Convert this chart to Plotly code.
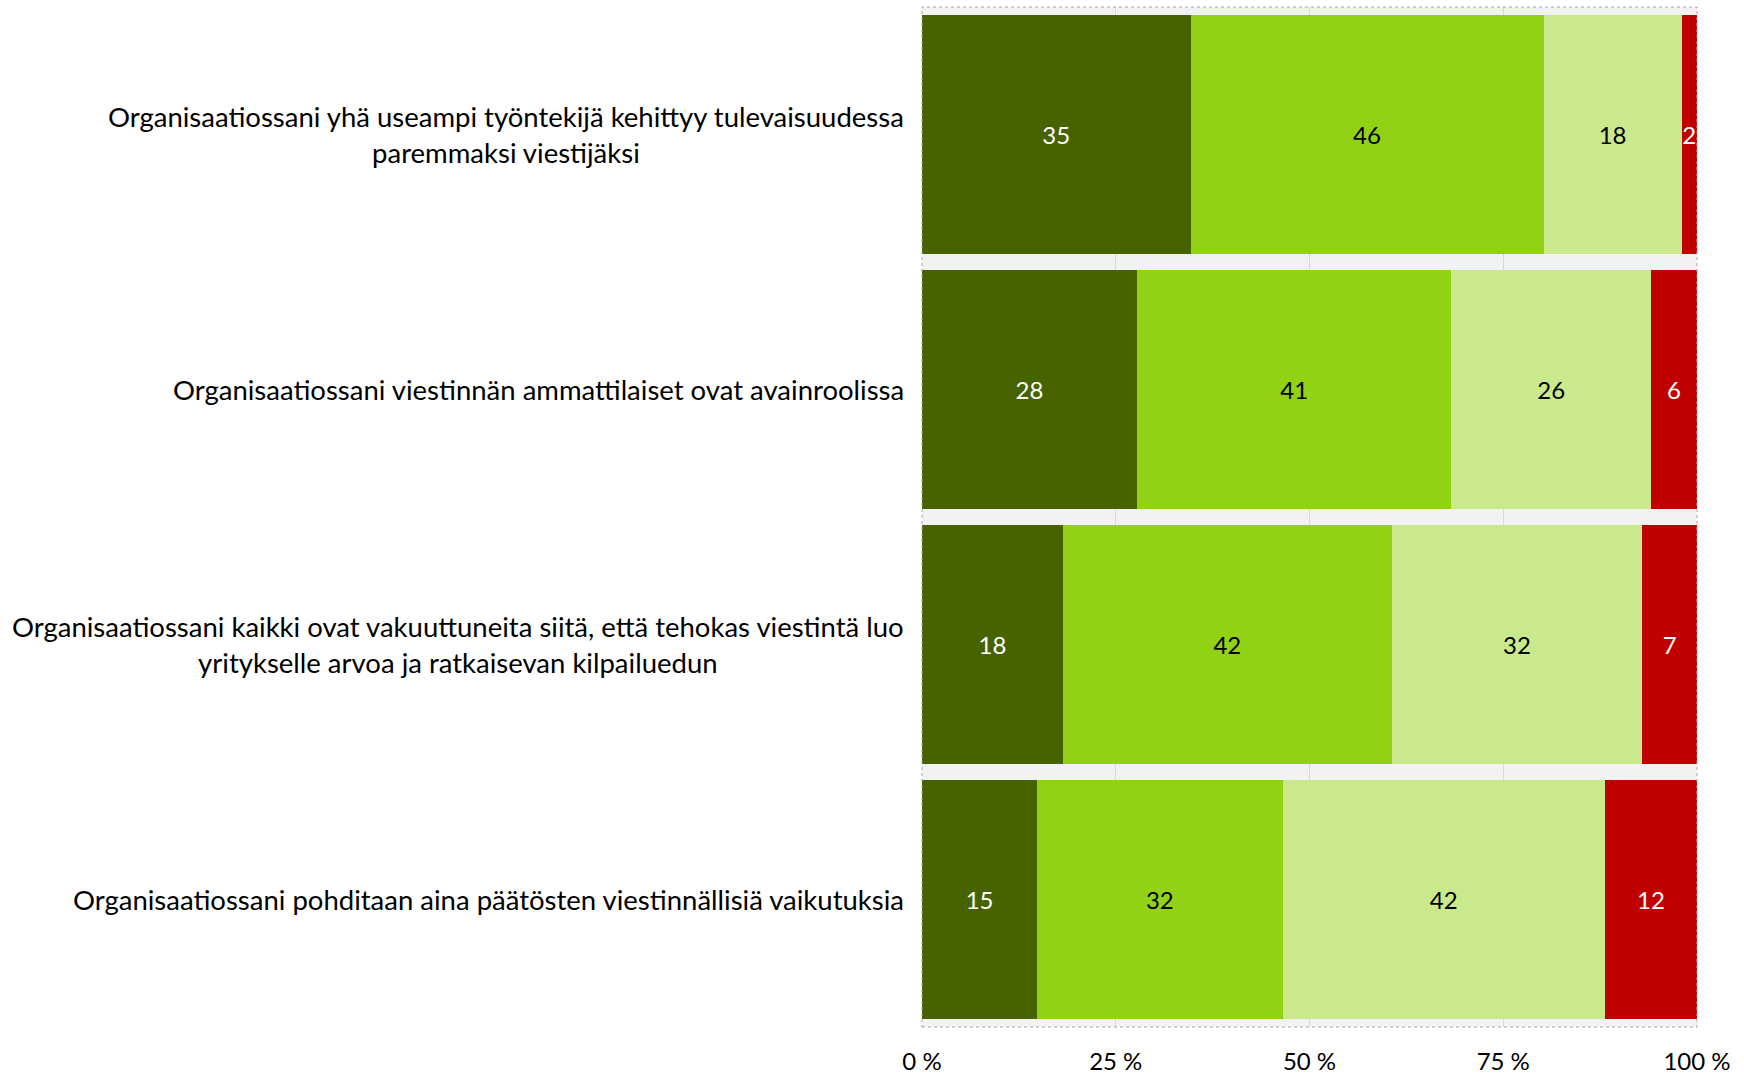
import plotly.graph_objects as go

# Survey statements (top to bottom) and response shares per answer class
statements = [
    "Organisaatiossani yhä useampi työntekijä kehittyy tulevaisuudessa<br>paremmaksi viestijäksi",
    "Organisaatiossani viestinnän ammattilaiset ovat avainroolissa",
    "Organisaatiossani kaikki ovat vakuuttuneita siitä, että tehokas viestintä luo<br>yritykselle arvoa ja ratkaisevan kilpailuedun",
    "Organisaatiossani pohditaan aina päätösten viestinnällisiä vaikutuksia",
]
series_names = ["Täysin samaa mieltä", "Jokseenkin samaa mieltä", "Jokseenkin eri mieltä", "Täysin eri mieltä"]
values = [
    [35, 28, 18, 15],
    [46, 41, 42, 32],
    [18, 26, 32, 42],
    [2, 6, 7, 12],
]
x_ticks = [0, 25, 50, 75, 100]
x_tick_labels = ["0 %", "25 %", "50 %", "75 %", "100 %"]

colors = ["#466300", "#92D215", "#CAE88C", "#C00000"]
text_colors = ["white", "black", "black", "white"]

fig = go.Figure()
for name, vals, col, tcol in zip(series_names, values, colors, text_colors):
    fig.add_trace(go.Bar(
        y=statements, x=vals, name=name, orientation="h",
        marker=dict(color=col, line=dict(width=0)),
        text=[str(v) for v in vals], textposition="inside",
        insidetextanchor="middle", textangle=0,
        textfont=dict(color=tcol, size=24, family="Lato"),
        cliponaxis=True,
    ))

# Category labels, right aligned against the plot, lines centred
for s in statements:
    fig.add_annotation(
        xref="paper", yref="y", x=0, y=s, text=s, showarrow=False,
        xanchor="right", yanchor="middle", align="center", xshift=-16,
        font=dict(size=27.5, family="Lato", color="black"),
    )

fig.update_layout(
    barmode="stack", barnorm="percent", bargap=0.065,
    width=1744, height=1075,
    margin=dict(l=922, r=47, t=7, b=48, autoexpand=False),
    paper_bgcolor="white", plot_bgcolor="#F2F2F2",
    showlegend=False,
    uniformtext=dict(minsize=24, mode="show"),
    font=dict(family="Lato", color="black"),
)
fig.update_xaxes(
    range=[0, 100], tickvals=x_ticks, ticktext=x_tick_labels,
    showgrid=True, gridcolor="#D9D9D9", gridwidth=1, zeroline=False,
    tickfont=dict(size=24, family="Lato", color="black"),
    ticks="", ticklabelstandoff=18, automargin=False, fixedrange=True,
)
fig.update_yaxes(
    autorange="reversed", showticklabels=False, showgrid=False, zeroline=False,
    ticks="", automargin=False,
)
fig.add_shape(
    type="rect", xref="paper", yref="paper", x0=0, x1=1, y0=0, y1=1,
    line=dict(color="#A6A6A6", width=1, dash="dot"), layer="above",
)

fig.write_html("out.html")
